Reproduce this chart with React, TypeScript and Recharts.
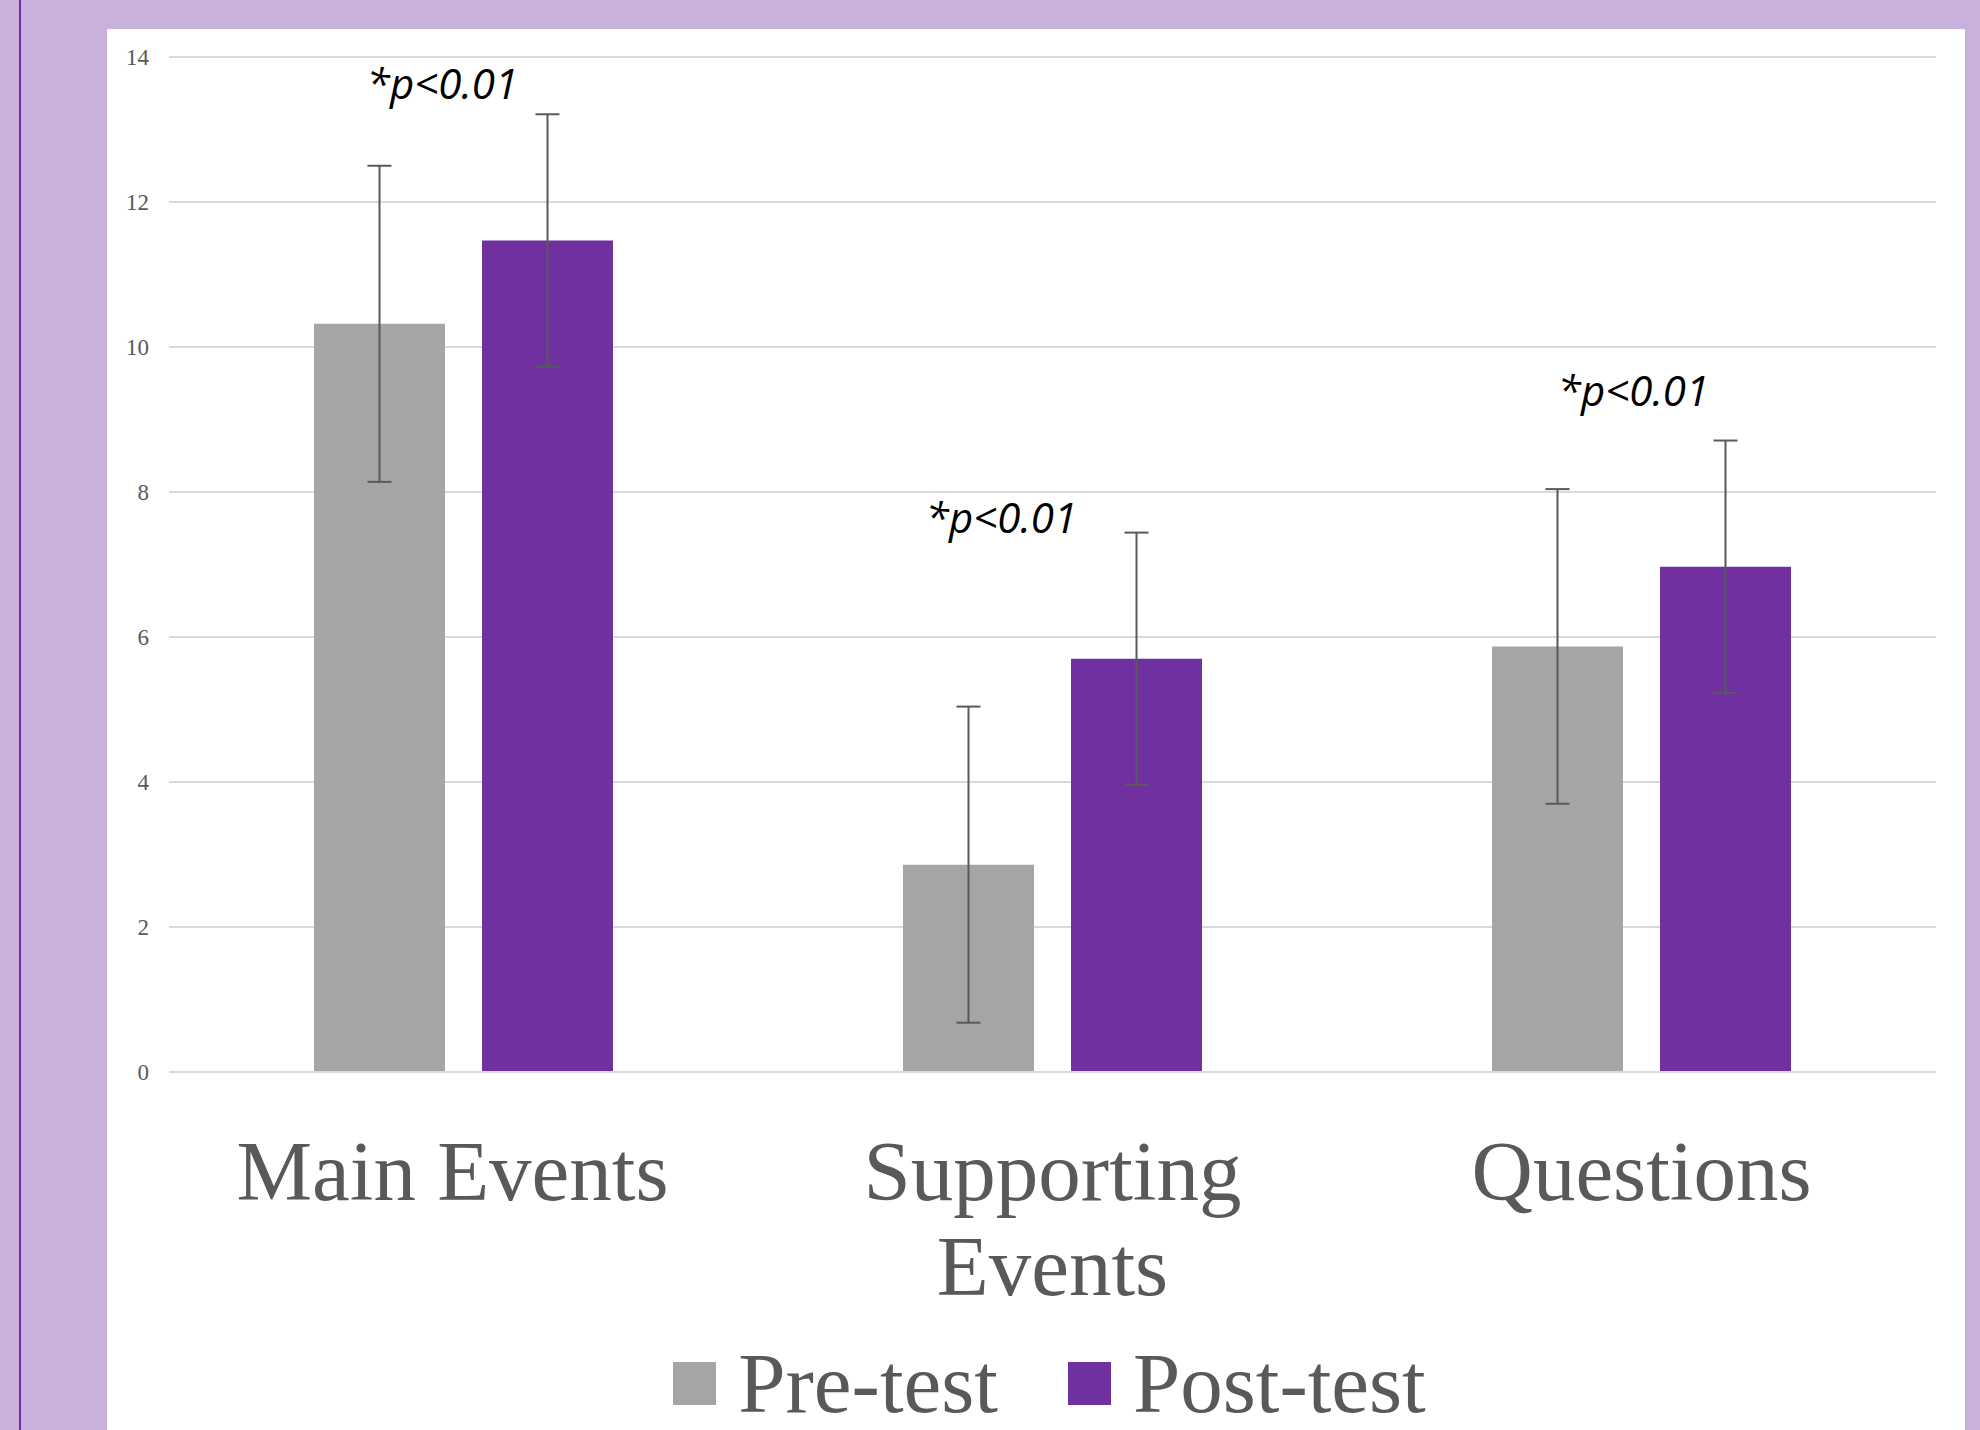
import React from "react";
import {
  BarChart,
  Bar,
  XAxis,
  YAxis,
  CartesianGrid,
  ErrorBar,
  Legend,
  ReferenceDot,
} from "recharts";

const categories = ["Main Events", "Supporting Events", "Questions"];
const categoryLabelLines = [["Main Events"], ["Supporting", "Events"], ["Questions"]];
const preTest = [10.32, 2.86, 5.87];
const postTest = [11.47, 5.7, 6.97];
const preError = [2.18, 2.18, 2.17];
const postError = [1.74, 1.74, 1.74];
const annotationText = ["*p<0.01", "*p<0.01", "*p<0.01"];
const annotationY = [13.42, 7.44, 9.18];
const yTicks = [0, 2, 4, 6, 8, 10, 12, 14];
const seriesNames = ["Pre-test", "Post-test"];

// small horizontal nudges (style only)
const annotationDx = [-21, -51, -8];
const labelDx = [-11, 0, 0];

const COLORS = {
  pre: "#A5A5A5",
  post: "#7030A0",
  text: "#595959",
  grid: "#D9D9D9",
  bg: "#C8B1DC",
  line: "#7030A0",
};

const data = categories.map((c, i) => ({
  name: c,
  pre: preTest[i],
  post: postTest[i],
  preErr: preError[i],
  postErr: postError[i],
}));

const SERIF = "'Liberation Serif', 'Times New Roman', serif";

const CategoryTick = (props: any) => {
  const { x, y, payload } = props;
  const idx = categories.indexOf(payload.value);
  const lines = idx >= 0 ? categoryLabelLines[idx] : [String(payload.value)];
  const tx = x + (idx >= 0 ? labelDx[idx] : 0);
  return (
    <text
      x={tx}
      y={y + 128}
      textAnchor="middle"
      fill={COLORS.text}
      fontSize={85}
      fontFamily={SERIF}
    >
      {lines.map((l, i) => (
        <tspan key={i} x={tx} dy={i === 0 ? 0 : 95}>
          {l}
        </tspan>
      ))}
    </text>
  );
};

const LegendContent = () => {
  const colors = [COLORS.pre, COLORS.post];
  return (
    <div
      style={{
        height: 99,
        display: "flex",
        justifyContent: "center",
        alignItems: "flex-start",
      }}
    >
      {seriesNames.map((n, i) => (
        <div
          key={n}
          style={{
            display: "flex",
            alignItems: "flex-start",
            marginLeft: i === 0 ? 0 : 70,
          }}
        >
          <div
            style={{
              width: 43,
              height: 43,
              background: colors[i],
              marginTop: 31,
            }}
          />
          <span
            style={{
              marginLeft: 22,
              marginTop: 10,
              fontFamily: SERIF,
              fontSize: 85,
              lineHeight: "85px",
              color: COLORS.text,
              whiteSpace: "nowrap",
            }}
          >
            {n}
          </span>
        </div>
      ))}
    </div>
  );
};

const makeAnnotationLabel = (text: string, dx: number) => (props: any) => {
  const vb = props.viewBox || {};
  const cx = (vb.x ?? 0) + (vb.width ?? 0) / 2;
  const cy = (vb.y ?? 0) + (vb.height ?? 0) / 2;
  return (
    <text
      x={cx + dx}
      y={cy}
      textAnchor="middle"
      fontFamily="'Open Sans', 'Noto Sans', sans-serif"
      fontStyle="italic"
      fontSize={42}
      fill="#000000"
    >
      {text}
    </text>
  );
};

export default function App() {
  return (
    <div
      style={{
        position: "absolute",
        left: 0,
        top: 0,
        width: 1980,
        height: 1430,
        background: COLORS.bg,
        overflow: "hidden",
      }}
    >
      <div
        style={{
          position: "absolute",
          left: 19,
          top: 0,
          width: 2,
          height: 1430,
          background: COLORS.line,
        }}
      />
      <div
        style={{
          position: "absolute",
          left: 107,
          top: 29,
          width: 1965 - 107,
          height: 1430 - 29,
          background: "#FFFFFF",
        }}
      />
      <div style={{ position: "absolute", left: 0, top: 0 }}>
        <BarChart
          width={1980}
          height={1430}
          data={data}
          margin={{ top: 57, right: 44, left: 109, bottom: 0 }}
          barSize={131}
          barGap={37}
        >
          <CartesianGrid
            horizontal={true}
            vertical={false}
            stroke={COLORS.grid}
            strokeWidth={2}
          />
          <XAxis
            dataKey="name"
            height={259}
            tickSize={0}
            tickMargin={0}
            tickLine={false}
            axisLine={{ stroke: COLORS.grid, strokeWidth: 2 }}
            tick={<CategoryTick />}
            interval={0}
          />
          <YAxis
            width={60}
            domain={[0, 14]}
            ticks={yTicks}
            tickSize={0}
            tickMargin={20}
            axisLine={false}
            tickLine={false}
            tick={{ fill: COLORS.text, fontSize: 23, fontFamily: SERIF }}
          />
          <Legend
            verticalAlign="bottom"
            content={<LegendContent />}
            wrapperStyle={{ left: 166, width: 1767, height: 99 }}
          />
          <Bar
            dataKey="pre"
            name={seriesNames[0]}
            fill={COLORS.pre}
            isAnimationActive={false}
          >
            <ErrorBar
              dataKey="preErr"
              width={12}
              stroke={COLORS.text}
              strokeWidth={2}
              isAnimationActive={false}
            />
          </Bar>
          <Bar
            dataKey="post"
            name={seriesNames[1]}
            fill={COLORS.post}
            isAnimationActive={false}
          >
            <ErrorBar
              dataKey="postErr"
              width={12}
              stroke={COLORS.text}
              strokeWidth={2}
              isAnimationActive={false}
            />
          </Bar>
          {categories.map((c, i) => (
            <ReferenceDot
              key={c}
              x={c}
              y={annotationY[i]}
              r={0}
              fill="none"
              stroke="none"
              ifOverflow="visible"
              label={makeAnnotationLabel(annotationText[i], annotationDx[i])}
            />
          ))}
        </BarChart>
      </div>
    </div>
  );
}
